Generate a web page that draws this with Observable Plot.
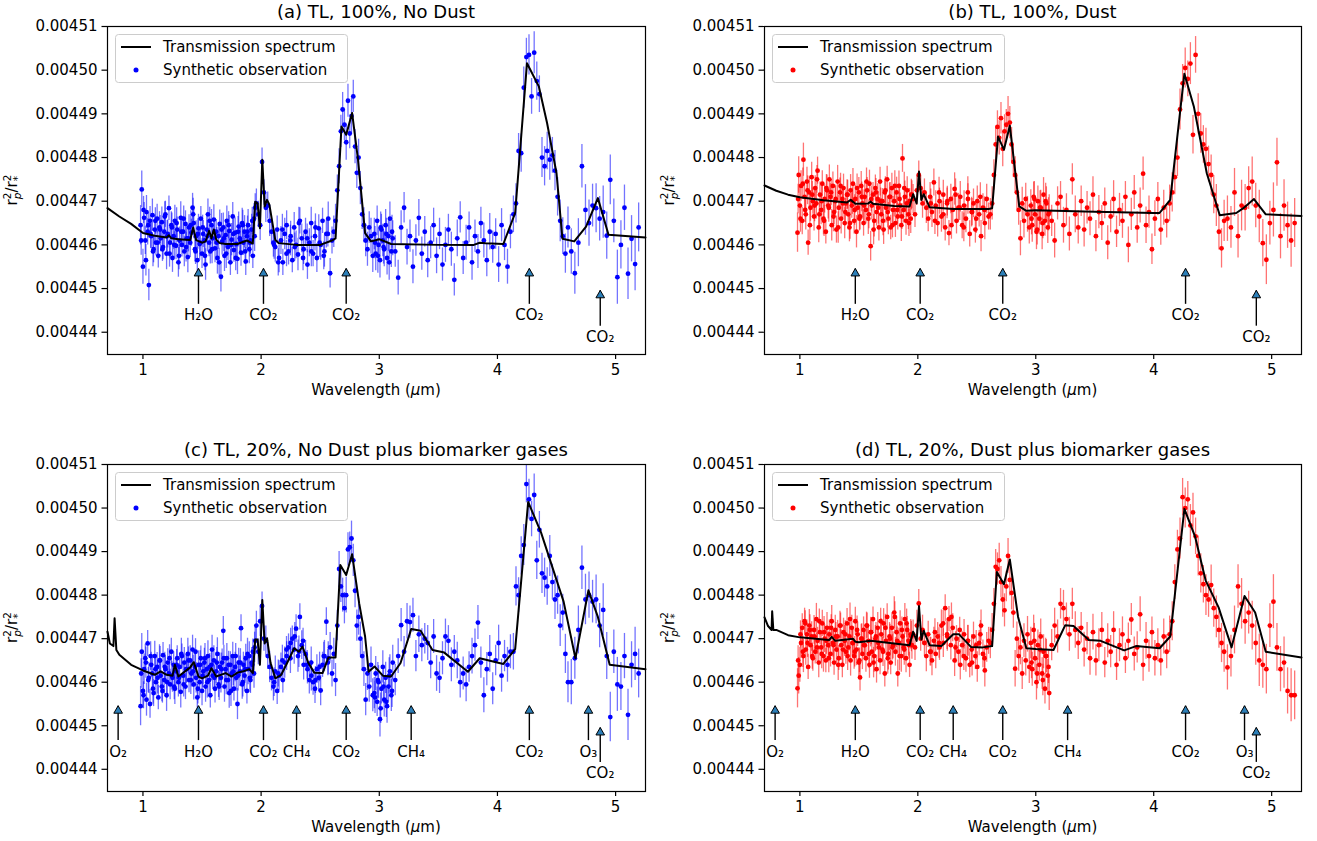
<!DOCTYPE html>
<html><head><meta charset="utf-8">
<script src="https://cdn.jsdelivr.net/npm/d3@7"></script>
<script src="https://cdn.jsdelivr.net/npm/@observablehq/plot@0.6"></script>
<style>
body{margin:0;background:#fff;font-family:"DejaVu Sans",sans-serif;}
#root{position:relative;width:1317px;height:841px;overflow:hidden;background:#fff}
.panel{position:absolute;width:660px;height:420px}
.title{position:absolute;font-size:18px;line-height:22px;text-align:center;white-space:nowrap;color:#000}
.legend{position:absolute}
</style></head>
<body><div id="root"></div>
<script>
// ---------- DATA (ratio values in units of 1e-5) ----------
const obsWave = [
0.98,0.99,1.00,1.01,1.02,1.03,1.04,1.05,1.06,1.07,1.08,1.09,1.10,1.11,
1.12,1.13,1.14,1.15,1.16,1.17,1.18,1.19,1.20,1.21,1.22,1.23,1.24,1.25,
1.26,1.27,1.28,1.29,1.30,1.31,1.32,1.33,1.34,1.35,1.36,1.37,1.38,1.39,
1.40,1.41,1.42,1.43,1.44,1.45,1.46,1.47,1.48,1.49,1.50,1.51,1.52,1.53,
1.54,1.55,1.56,1.57,1.58,1.59,1.60,1.61,1.62,1.63,1.64,1.65,1.66,1.67,
1.68,1.69,1.70,1.71,1.72,1.73,1.74,1.75,1.76,1.77,1.78,1.79,1.80,1.81,
1.82,1.83,1.84,1.85,1.86,1.87,1.88,1.89,1.90,1.91,1.92,1.93,1.94,1.95,
1.96,1.976,1.992,2.008,2.024,2.04,2.056,2.072,2.088,2.104,2.12,2.136,2.152,2.168,
2.184,2.2,2.216,2.232,2.248,2.264,2.28,2.296,2.312,2.328,2.344,2.36,2.376,2.392,
2.408,2.424,2.44,2.456,2.472,2.488,2.504,2.52,2.536,2.552,2.568,2.584,2.6,
2.615,2.63,2.645,2.66,2.675,2.69,2.705,2.72,2.735,2.75,2.765,2.78,
2.795,2.81,2.825,2.84,2.855,2.87,2.885,2.9,2.915,2.93,2.945,
2.958,2.97,2.982,2.994,3.006,3.018,3.03,3.042,3.054,3.066,3.078,3.09,3.102,3.114,
3.135,3.16,3.185,3.21,3.235,3.26,3.285,3.31,3.335,3.36,3.385,3.41,3.435,3.46,
3.485,3.51,3.535,3.56,3.585,3.61,3.635,3.66,3.685,3.71,3.735,3.76,3.785,3.81,
3.835,3.86,3.885,3.91,3.935,3.96,3.985,4.01,4.035,4.06,4.085,4.11,
4.135,4.157,4.179,4.201,4.223,4.245,4.267,4.289,4.311,4.333,4.355,4.377,
4.399,4.421,4.443,4.465,4.487,4.509,4.531,4.553,4.575,4.597,
4.625,4.655,4.685,4.715,4.745,4.775,4.805,4.835,4.865,4.895,
4.925,4.955,4.985,5.015,5.045,5.075,5.105,5.135,5.165,5.195,
// interleaved extra samples
0.985,1.005,1.025,1.045,1.065,1.085,1.105,1.125,1.145,1.165,1.185,1.205,1.225,1.245,
1.265,1.285,1.305,1.325,1.345,1.365,1.385,1.405,1.425,1.445,1.465,1.485,1.505,1.525,
1.545,1.565,1.585,1.605,1.625,1.645,1.665,1.685,1.705,1.725,1.745,1.765,1.785,1.805,
1.825,1.845,1.865,1.885,1.905,1.925,1.945,
2.11,2.145,2.18,2.215,2.25,2.285,2.32,2.355,2.39,2.425,2.46,2.495,2.53,2.565,
2.964,2.988,3.012,3.036,3.06,3.084,3.108];

const obsErr = [
.45,.42,.40,.35,.32,.38,.30,.36,.33,.29,.37,.31,.34,.30,
.33,.28,.36,.31,.35,.29,.34,.30,.37,.32,.28,.35,.31,.33,
.30,.36,.32,.29,.34,.31,.37,.28,.33,.35,.30,.32,.36,.29,
.34,.31,.33,.36,.29,.35,.30,.32,.37,.28,.34,.31,.33,.36,
.30,.35,.32,.29,.36,.31,.34,.33,.28,.37,.30,.32,.35,.31,
.33,.36,.29,.34,.31,.35,.30,.37,.32,.28,.34,.31,.36,.33,
.35,.31,.34,.29,.37,.32,.30,.36,.33,.31,.35,.29,.34,.32,
.33,.30,.35,.32,.29,.34,.31,.36,.30,.33,.35,.31,.34,.32,
.30,.36,.33,.31,.35,.29,.34,.32,.37,.30,.33,.35,.31,.34,
.32,.36,.30,.34,.33,.31,.35,.29,.36,.32,.38,.34,.31,
.36,.38,.35,.40,.37,.39,.36,.41,.38,.35,.40,.37,
.39,.36,.42,.38,.35,.40,.37,.39,.36,.41,.38,
.36,.39,.34,.38,.41,.35,.37,.40,.36,.39,.35,.38,.37,.40,
.36,.40,.38,.35,.41,.37,.39,.36,.42,.38,.35,.40,.37,.39,
.41,.36,.38,.40,.35,.39,.37,.42,.36,.38,.40,.35,.41,.37,
.39,.36,.40,.38,.42,.37,.35,.41,.38,.36,.40,.39,
.42,.45,.40,.44,.47,.43,.46,.41,.48,.44,.42,.46,
.45,.43,.47,.41,.46,.44,.48,.42,.45,.47,
.52,.48,.55,.50,.58,.53,.49,.56,.51,.60,
.54,.57,.50,.62,.55,.52,.59,.53,.61,.56,
.34,.31,.36,.29,.33,.35,.30,.37,.32,.28,.34,.36,.31,.33,
.30,.35,.32,.36,.29,.34,.31,.33,.37,.30,.35,.32,.28,.34,
.36,.31,.33,.29,.35,.32,.37,.30,.34,.31,.36,.33,.29,.35,
.32,.34,.30,.36,.33,.31,.35,
.33,.31,.35,.30,.34,.32,.36,.29,.33,.35,.31,.34,.32,.30,
.37,.40,.35,.39,.36,.41,.38];

const obsA = [
446.45,447.27,445.50,446.62,446.10,446.75,446.30,445.08,446.55,446.20,446.68,445.90,446.35,446.05,
446.60,445.75,446.40,446.15,446.52,445.95,446.30,446.70,445.80,446.25,446.84,446.05,446.45,445.70,
446.20,446.55,445.98,446.35,445.60,446.10,446.62,446.00,446.30,445.85,446.48,446.15,445.72,446.40,
446.05,446.28,446.85,446.50,445.90,446.20,445.65,446.38,446.02,446.60,445.80,446.25,446.10,445.55,
446.35,446.70,446.05,445.85,446.45,446.15,446.58,445.92,446.30,445.70,446.20,446.48,445.27,446.08,
446.40,445.75,446.22,446.55,445.95,446.32,445.60,446.12,446.65,445.88,446.28,446.02,445.68,446.42,
446.15,445.82,446.50,446.05,446.30,445.62,446.20,446.45,445.90,446.10,446.35,445.75,446.60,446.85,
446.95,446.70,446.45,447.90,447.20,446.85,446.90,446.55,446.30,446.05,445.95,446.35,445.70,446.10,
445.60,446.25,446.45,445.85,446.10,445.65,446.40,446.00,445.78,446.55,446.15,445.90,446.30,445.55,
446.05,446.50,445.80,446.20,445.70,446.38,446.00,446.55,445.85,446.25,446.60,445.35,446.10,
446.30,446.55,447.25,447.80,448.60,449.10,448.75,448.35,449.30,448.55,448.95,449.40,
448.25,447.65,448.00,447.30,446.70,446.45,446.10,445.90,446.40,446.20,445.75,
446.25,445.80,446.55,446.00,445.65,446.35,446.10,445.90,446.45,445.70,446.20,446.60,445.85,446.15,
445.85,445.25,446.40,446.85,445.95,446.20,445.50,446.10,446.62,445.80,446.30,445.65,446.05,446.45,
445.75,446.25,445.55,446.00,446.35,445.90,445.20,446.15,446.63,445.70,446.05,446.40,445.60,446.20,
445.85,446.50,446.10,445.65,446.30,445.95,446.25,445.55,446.45,446.00,445.50,446.30,
446.70,446.95,448.15,448.10,449.60,450.30,450.35,449.40,450.40,449.75,449.45,448.00,
447.80,448.15,447.95,448.05,447.70,447.10,446.55,446.20,445.80,446.40,
445.85,445.35,446.05,447.80,446.80,446.50,446.90,446.84,446.60,446.75,
446.21,447.49,446.55,445.26,446.00,446.85,445.34,446.14,445.56,446.40,
446.10,446.80,445.65,446.45,446.25,445.85,446.55,446.05,446.35,445.90,446.65,446.20,445.80,446.40,
446.00,446.50,445.75,446.30,446.60,445.95,446.15,446.45,446.70,445.85,446.25,446.05,446.40,445.75,
446.20,446.55,445.90,446.30,446.05,445.60,446.35,446.15,445.80,446.45,446.00,446.25,445.70,446.30,
446.10,446.45,445.85,446.30,446.05,446.55,446.20,
446.00,445.60,446.35,445.80,446.20,445.95,446.50,445.70,446.15,445.85,446.40,446.05,445.75,446.25,
446.05,445.75,446.40,445.95,446.25,445.60,446.30];

const obsB = [
446.28,447.60,446.90,447.35,446.55,447.95,447.10,446.70,447.45,446.05,447.20,446.85,447.55,447.00,
446.65,447.30,446.95,447.70,446.40,447.15,446.80,447.40,446.60,447.05,446.30,447.25,446.90,447.50,
447.10,446.45,447.35,446.75,447.00,446.35,447.45,446.85,447.20,446.60,447.05,447.30,446.50,446.95,
447.15,446.70,446.40,447.25,446.90,447.40,446.55,447.05,446.30,446.85,447.20,446.65,447.35,446.95,
446.50,447.10,446.80,447.25,446.60,447.40,445.97,446.90,447.15,446.55,447.30,446.75,447.05,446.40,
447.45,446.70,447.00,446.35,447.20,446.85,447.50,446.60,447.10,446.40,447.30,446.80,447.00,446.50,
447.20,446.65,447.35,446.90,446.45,447.98,446.80,447.10,446.55,447.25,446.70,447.00,446.60,447.15,
447.05,446.70,447.25,447.60,447.30,446.95,447.20,446.85,446.60,447.10,446.75,447.43,446.90,446.50,
447.00,446.65,447.15,446.40,446.95,446.27,447.05,446.80,447.28,446.55,446.85,447.10,446.45,446.90,
446.60,447.20,446.25,446.75,446.95,446.35,447.00,446.70,446.20,446.85,446.50,447.05,446.65,
446.70,446.95,447.60,448.30,448.70,448.45,448.90,448.20,448.60,448.75,449.00,448.80,
448.30,447.90,447.60,447.20,446.80,446.15,446.95,446.55,447.05,446.70,446.40,
446.90,446.45,447.10,446.70,446.30,447.00,446.60,446.85,446.25,447.15,446.55,446.95,446.40,446.75,
446.55,446.10,446.95,447.10,446.45,446.80,446.25,447.50,446.70,446.40,447.00,446.35,446.85,446.60,
447.15,446.20,446.75,446.50,446.95,446.05,446.65,447.05,446.30,446.80,446.55,447.10,446.00,446.70,
447.20,446.40,446.90,447.63,446.45,446.75,445.90,446.60,447.05,446.35,446.85,446.55,
446.95,447.20,447.55,448.00,449.10,449.70,450.05,449.80,450.15,448.52,450.35,449.00,
448.55,448.30,448.20,447.85,447.60,447.15,446.90,446.30,445.92,446.55,
446.60,446.40,447.20,446.20,446.90,446.85,447.30,447.45,446.90,446.65,
446.04,445.66,446.50,446.80,447.89,446.20,446.90,446.45,446.10,446.50,
447.05,446.60,447.40,446.80,447.25,446.45,447.15,446.90,447.50,446.70,447.00,446.55,447.30,446.85,
447.20,446.65,447.05,446.40,447.35,446.95,446.75,447.15,446.50,447.00,446.80,447.30,446.60,447.10,
446.90,447.45,446.70,447.05,446.35,447.20,446.85,447.00,446.55,447.25,446.75,447.10,446.45,447.35,
446.80,447.05,446.65,447.30,446.95,446.50,447.15,
446.95,446.55,447.20,446.70,447.00,446.45,447.15,446.85,446.40,447.05,446.75,446.60,447.10,446.80,
446.60,447.05,446.35,446.85,446.50,447.00,446.70];

const obsC = [
445.45,446.70,445.80,446.30,446.55,445.60,446.89,446.10,445.50,446.40,446.20,445.75,446.60,446.00,
446.35,445.65,446.50,446.15,445.90,446.62,446.05,446.30,445.70,446.45,446.20,445.95,446.70,446.10,
446.40,445.85,446.25,446.55,446.00,446.35,445.78,446.60,446.15,446.45,445.90,446.30,446.65,446.05,
446.50,446.20,446.75,445.95,446.35,446.10,445.65,446.40,446.00,446.55,445.80,446.25,446.45,445.90,
446.30,446.60,446.05,445.70,446.40,446.15,446.50,445.85,446.25,446.65,445.95,446.35,446.10,446.45,
447.18,445.90,446.30,446.55,446.05,445.75,446.40,446.20,446.60,445.85,446.35,446.10,445.50,446.45,
446.25,447.24,445.95,446.40,446.15,446.55,445.80,446.30,446.60,446.05,446.45,446.70,446.20,446.95,
447.30,446.70,447.40,447.75,447.00,446.95,446.60,446.35,446.10,445.90,446.25,445.80,446.15,446.35,
446.05,446.45,446.60,446.80,446.55,447.00,446.75,447.23,446.60,447.50,446.85,446.40,446.65,446.30,
446.05,446.45,446.00,445.85,446.30,446.10,445.81,446.40,446.60,447.39,446.55,446.80,446.20,
446.65,446.05,447.30,448.60,448.20,448.00,447.70,448.00,449.05,449.10,449.30,448.80,
448.10,447.30,447.50,447.00,446.60,446.30,445.60,446.20,445.90,446.40,445.70,
445.75,446.20,445.55,446.00,445.15,445.85,446.35,445.60,446.10,445.45,445.90,446.25,445.70,446.45,
446.05,446.60,447.31,446.70,447.40,447.38,447.54,446.60,447.10,446.85,447.00,446.90,446.45,447.05,
446.20,446.10,446.55,447.05,446.95,446.40,446.70,446.50,446.00,446.20,445.95,446.35,446.60,446.85,
447.37,446.45,445.70,446.30,446.65,445.85,446.50,446.90,446.15,446.60,446.40,446.70,
446.70,448.20,448.00,448.90,449.15,450.55,450.20,449.75,450.30,448.80,449.50,448.50,
448.40,448.20,448.90,448.30,447.90,448.00,447.30,447.60,446.65,446.00,
446.00,446.55,447.20,448.63,447.90,448.00,447.85,447.90,447.30,447.66,
446.60,445.20,446.70,445.95,445.90,446.60,445.25,446.40,446.65,446.20,
446.20,445.70,446.45,446.05,446.60,445.85,446.30,446.10,446.50,445.80,446.35,446.00,446.55,446.15,
445.90,446.40,446.10,446.65,445.95,446.30,446.50,446.05,446.25,446.70,445.85,446.40,446.15,446.55,
446.00,446.35,446.75,446.10,446.45,445.90,446.30,446.55,446.05,446.40,445.80,446.25,446.60,446.15,
446.45,446.00,446.30,446.65,446.10,446.40,446.80,
446.00,446.20,446.50,446.75,446.90,447.05,446.70,446.95,446.40,446.15,446.05,446.35,446.60,446.45,
445.65,446.05,445.40,445.90,445.55,446.15,445.80];

const obsD = [
445.86,446.15,446.40,446.90,447.25,446.60,447.40,446.75,447.10,446.35,447.30,446.85,447.05,446.55,
447.20,446.70,447.45,446.95,446.45,447.15,446.80,447.35,446.60,447.00,446.50,447.25,446.85,447.10,
446.65,447.40,446.90,446.45,447.20,446.75,447.05,446.55,447.30,446.85,446.40,447.15,446.95,446.70,
447.35,446.80,447.05,446.50,447.25,446.90,446.60,447.40,446.75,447.10,446.45,446.11,447.00,446.65,
447.20,446.85,446.55,447.30,446.95,446.40,447.15,446.70,447.45,446.60,447.00,446.30,447.25,446.80,
446.50,447.10,446.75,447.35,446.20,446.95,447.50,446.65,447.05,446.45,447.25,446.85,447.60,446.70,
447.15,446.20,446.90,447.35,446.60,447.05,446.80,447.45,446.55,447.20,446.95,446.40,447.10,446.85,
447.10,446.80,447.30,447.81,447.00,447.20,446.90,446.60,447.10,446.70,446.50,446.95,446.65,447.05,
446.80,447.30,446.90,447.70,447.10,447.45,446.85,447.25,446.50,447.00,446.70,446.40,446.85,447.10,
446.55,446.95,446.40,446.75,447.05,446.60,446.35,446.90,447.30,446.65,446.27,446.80,446.95,
446.90,447.20,447.80,448.65,448.60,448.80,448.30,447.90,447.65,448.20,448.90,448.35,
448.05,447.60,446.31,447.00,446.60,446.80,446.20,446.95,446.50,447.10,446.35,
446.90,446.30,447.20,446.55,446.00,446.85,446.40,447.05,446.20,446.70,445.85,446.60,446.15,445.75,
446.85,447.30,447.05,447.80,447.70,447.45,447.10,447.80,447.20,446.90,447.25,446.75,447.00,446.55,
447.15,446.50,446.85,447.20,446.45,446.95,446.70,447.20,446.40,446.85,447.10,446.55,446.95,447.44,
446.65,446.80,447.56,446.40,446.95,446.60,447.15,446.55,446.85,446.50,447.05,446.70,
447.10,447.40,448.30,449.05,449.30,450.25,450.00,450.20,449.60,449.90,449.35,448.90,
448.50,448.25,448.00,447.90,448.23,447.70,447.50,447.20,446.90,446.70,
446.34,446.60,447.20,448.20,447.80,447.40,447.60,447.30,446.90,446.50,
446.40,446.30,447.30,447.85,446.80,446.30,446.45,445.80,445.70,445.70,
446.50,447.10,446.70,447.35,446.90,447.20,446.60,447.05,446.80,447.40,446.65,447.15,446.95,446.55,
447.25,446.85,447.05,446.40,447.30,446.75,447.10,446.60,447.45,446.90,446.70,447.20,446.50,447.00,
446.85,447.30,446.65,447.15,446.45,447.05,446.90,447.40,446.70,447.25,446.55,447.00,446.80,447.50,
446.95,446.60,447.20,446.75,447.35,446.85,447.05,
446.70,447.15,446.90,447.35,447.05,447.50,446.80,447.20,446.60,446.95,446.45,446.85,447.10,446.55,
446.45,446.95,446.20,446.75,446.05,446.60,446.35];

// Transmission spectra (model lines)
const modelAx = [0.70,0.8,0.9,1.0,1.1,1.2,1.22,1.24,1.3,1.4,1.425,1.45,1.5,1.53,1.56,1.58,1.60,1.62,1.65,1.7,1.8,1.88,1.93,1.95,1.97,1.99,2.01,2.03,2.05,2.07,2.12,2.15,2.3,2.5,2.6,2.63,2.68,2.72,2.77,2.82,2.88,2.93,3.0,3.1,3.5,3.8,3.85,3.9,4.05,4.15,4.25,4.35,4.42,4.5,4.55,4.65,4.75,4.85,4.94,5.253];
const modelAy = [446.84,446.65,446.48,446.27,446.21,446.17,446.22,446.15,446.13,446.11,446.40,446.11,446.05,446.08,446.32,446.15,446.35,446.12,446.04,446.02,446.02,446.10,446.03,446.99,446.95,446.38,447.95,446.88,447.03,446.92,446.11,446.04,446.0,446.0,446.1,446.15,448.71,448.52,449.02,447.95,446.27,446.08,446.13,446.02,446.0,446.0,446.05,446.04,446.02,446.73,450.16,449.63,448.79,447.64,446.14,446.08,446.42,447.07,446.23,446.17];
const modelBx = [0.70,0.8,0.9,1.0,1.2,1.4,1.43,1.47,1.58,1.6,1.62,1.8,1.93,1.96,1.99,2.01,2.03,2.05,2.1,2.3,2.6,2.63,2.68,2.73,2.78,2.86,2.92,3.0,3.5,4.0,4.05,4.14,4.26,4.34,4.45,4.56,4.7,4.76,4.85,4.95,5.253];
const modelBy = [447.36,447.24,447.15,447.09,447.02,446.97,447.03,446.94,446.95,446.99,446.94,446.89,446.88,447.16,446.95,447.68,447.03,447.16,446.86,446.82,446.82,446.84,448.48,448.18,448.73,446.88,446.78,446.79,446.76,446.73,446.73,447.03,449.92,449.17,447.64,446.68,446.73,446.84,447.05,446.70,446.66];
const modelCx = [0.70,0.72,0.75,0.76,0.775,0.8,0.9,1.0,1.1,1.15,1.2,1.25,1.27,1.3,1.4,1.43,1.47,1.5,1.55,1.58,1.62,1.7,1.75,1.8,1.85,1.9,1.93,1.95,1.97,1.99,2.01,2.03,2.05,2.08,2.12,2.17,2.22,2.28,2.32,2.35,2.4,2.45,2.52,2.57,2.63,2.67,2.72,2.77,2.83,2.88,2.91,2.96,3.03,3.1,3.18,3.27,3.35,3.45,3.55,3.75,3.85,4.05,4.15,4.26,4.37,4.56,4.66,4.77,4.85,4.95,5.253];
const modelCy = [447.16,446.89,446.83,447.47,446.74,446.63,446.40,446.27,446.17,446.25,446.17,446.15,446.40,446.13,446.34,446.46,446.13,446.09,446.15,446.32,446.13,446.21,446.13,446.22,446.25,446.30,446.21,446.98,446.98,446.40,447.89,446.89,447.01,446.44,446.09,446.17,446.44,446.78,446.70,446.82,446.44,446.22,446.21,446.57,446.57,448.69,448.46,448.94,447.81,447.05,446.24,446.36,446.15,446.13,446.44,447.22,447.18,446.74,446.68,446.24,446.55,446.42,446.76,450.14,449.43,447.85,446.55,448.11,447.50,446.40,446.30];
const modelDx = [0.70,0.73,0.76,0.765,0.775,0.8,0.9,1.0,1.2,1.25,1.27,1.3,1.45,1.47,1.5,1.6,1.8,1.93,1.96,1.99,2.01,2.03,2.05,2.1,2.2,2.3,2.35,2.45,2.55,2.63,2.67,2.73,2.78,2.85,2.92,3.0,3.15,3.25,3.32,3.45,3.55,3.75,3.85,4.05,4.14,4.26,4.35,4.44,4.55,4.66,4.77,4.86,4.95,5.253];
const modelDy = [447.49,447.29,447.20,447.63,447.20,447.20,447.08,447.03,446.98,446.97,447.04,446.95,447.0,446.93,446.92,446.95,446.89,446.85,447.16,446.95,447.75,446.98,447.18,446.85,446.83,447.10,447.10,446.81,446.80,446.83,448.53,448.25,448.82,447.50,446.78,446.76,446.74,447.31,447.29,446.97,446.95,446.73,446.83,446.78,447.05,449.98,449.35,448.34,447.72,446.80,447.98,447.60,446.70,446.57];

// Annotations
const annTopLabels = ["H₂O","CO₂","CO₂","CO₂","CO₂"];
const annTopWave   = [1.47, 2.02, 2.72, 4.27, 4.87];
const annTopTip    = [445.46,445.46,445.46,445.46,444.96];
const annTopText   = [444.38,444.38,444.38,444.38,443.88];
const annBotLabels = ["O₂","H₂O","CO₂","CH₄","CO₂","CH₄","CO₂","O₃","CO₂"];
const annBotWave   = [0.79,1.47,2.02,2.30,2.72,3.27,4.27,4.77,4.87];
const annBotTip    = [445.46,445.46,445.46,445.46,445.46,445.46,445.46,445.46,444.96];
const annBotText   = [444.40,444.40,444.40,444.40,444.40,444.40,444.40,444.40,443.90];

const titles = ["(a) TL, 100%, No Dust","(b) TL, 100%, Dust","(c) TL, 20%, No Dust plus biomarker gases","(d) TL, 20%, Dust plus biomarker gases"];
const xTicks = [1,2,3,4,5];
const yTicks = [444,445,446,447,448,449,450,451];
const legendLabels = ["Transmission spectrum","Synthetic observation"];

// ---------- RENDER ----------
[obsA,obsB,obsC,obsD,obsErr].forEach((a,i)=>{ if(a.length!==obsWave.length) throw new Error("length mismatch "+i+": "+a.length+" vs "+obsWave.length); });
[[modelAx,modelAy],[modelBx,modelBy],[modelCx,modelCy],[modelDx,modelDy]].forEach(([a,b],i)=>{ if(a.length!==b.length) throw new Error("model mismatch "+i); });

const root = document.getElementById("root");
const BLUE="#0000ff", RED="#ff0000";

function panel(cfg){
  const obs = obsWave.map((w,i)=>({w, v: cfg.vals[i], e: obsErr[i]}));
  const model = cfg.mx.map((w,i)=>({w, v: cfg.my[i]}));
  const ann = cfg.annL.map((label,i)=>({label, w: cfg.annW[i], tip: cfg.annTip[i], txt: cfg.annTxt[i]}));
  const svg = Plot.plot({
    width: 660, height: 420,
    marginLeft: cfg.ml, marginRight: cfg.mr, marginTop: cfg.mt, marginBottom: cfg.mb,
    style: {fontSize: "15px", fontFamily: "DejaVu Sans, sans-serif", background: "transparent", overflow: "visible", color: "black"},
    x: {domain: [0.70, 5.253]},
    y: {domain: [443.49, 451.0]},
    marks: [
      Plot.ruleX(obs, {x: "w", y1: d => d.v - d.e, y2: d => d.v + d.e, stroke: cfg.color, strokeOpacity: 0.55, strokeWidth: 1.3}),
      Plot.dot(obs, {x: "w", y: "v", r: 2.4, fill: cfg.color, stroke: "none"}),
      Plot.line(model, {x: "w", y: "v", stroke: "black", strokeWidth: 2}),
      Plot.link(ann, {x1: "w", x2: "w", y1: d => d.txt + 0.27, y2: "tip", stroke: "black", strokeWidth: 1.4}),
      Plot.dot(ann, {x: "w", y: "tip", symbol: "triangle", r: 3.2, fill: "#2c7fb8", stroke: "black", strokeWidth: 1, dy: 5}),
      Plot.text(ann, {x: "w", y: "txt", text: "label", fontSize: 15, fill: "black"}),
      Plot.axisX({ticks: xTicks, tickSize: 5, tickPadding: 5, label: null, tickFormat: d => String(d), strokeWidth: 1.2}),
      Plot.axisY({ticks: yTicks, tickSize: 5.5, tickPadding: 4.5, label: null, tickFormat: d => (d / 1e5).toFixed(5), strokeWidth: 1.2}),
      Plot.frame({stroke: "black", strokeWidth: 1.2})
    ]
  });
  const s = d3.select(svg);
  const fl = cfg.ml, fr = 660 - cfg.mr, ft = cfg.mt, fb = 420 - cfg.mb;
  const xl = s.append("text").attr("x", (fl + fr) / 2).attr("y", fb + 41)
    .attr("text-anchor", "middle").attr("font-size", 15).attr("fill", "black");
  xl.append("tspan").text("Wavelength (");
  xl.append("tspan").attr("font-style", "italic").text("μ");
  xl.append("tspan").text("m)");
  const yl = s.append("text").attr("transform", `translate(${fl - 90},${(ft + fb) / 2}) rotate(-90)`)
    .attr("text-anchor", "middle").attr("font-size", 15).attr("fill", "black");
  yl.append("tspan").text("r");
  yl.append("tspan").attr("font-size", 10.5).attr("dy", -6).text("2");
  yl.append("tspan").attr("font-size", 10.5).attr("font-style", "italic").attr("dx", -6.7).attr("dy", 10).text("p");
  yl.append("tspan").attr("dy", -4).text("/r");
  yl.append("tspan").attr("font-size", 10.5).attr("dy", -6).text("2");
  yl.append("tspan").attr("font-size", 10.5).attr("dx", -6.7).attr("dy", 10).text("*");
  const wrap = document.createElement("div");
  wrap.className = "panel";
  wrap.style.left = cfg.left + "px"; wrap.style.top = cfg.top + "px";
  wrap.appendChild(svg);
  root.appendChild(wrap);
  const t = document.createElement("div");
  t.className = "title";
  t.style.left = (cfg.left + fl) + "px"; t.style.width = (fr - fl) + "px";
  t.style.top = (cfg.top + ft - 25) + "px";
  t.textContent = cfg.title;
  root.appendChild(t);
  const lg = d3.create("svg").attr("class", "legend").attr("width", 234).attr("height", 50)
    .style("left", (cfg.left + fl + 8) + "px").style("top", (cfg.top + ft + 8) + "px");
  lg.append("rect").attr("x", 0.5).attr("y", 0.5).attr("width", 232).attr("height", 48).attr("rx", 3)
    .attr("fill", "white").attr("fill-opacity", 0.8).attr("stroke", "#cccccc");
  lg.append("line").attr("x1", 6).attr("x2", 36).attr("y1", 13).attr("y2", 13).attr("stroke", "black").attr("stroke-width", 2);
  lg.append("circle").attr("cx", 21).attr("cy", 36).attr("r", 2.5).attr("fill", cfg.color);
  lg.append("text").attr("x", 48).attr("y", 13).attr("dy", "0.35em").attr("font-size", 15).attr("font-family", "DejaVu Sans, sans-serif").text(legendLabels[0]);
  lg.append("text").attr("x", 48).attr("y", 36).attr("dy", "0.35em").attr("font-size", 15).attr("font-family", "DejaVu Sans, sans-serif").text(legendLabels[1]);
  root.appendChild(lg.node());
}

panel({title: titles[0], vals: obsA, mx: modelAx, my: modelAy, color: BLUE, annL: annTopLabels, annW: annTopWave, annTip: annTopTip, annTxt: annTopText,
  left: 0, top: 0, ml: 107, mr: 15, mt: 26, mb: 66});
panel({title: titles[1], vals: obsB, mx: modelBx, my: modelBy, color: RED, annL: annTopLabels, annW: annTopWave, annTip: annTopTip, annTxt: annTopText,
  left: 657, top: 0, ml: 107, mr: 16, mt: 26, mb: 66});
panel({title: titles[2], vals: obsC, mx: modelCx, my: modelCy, color: BLUE, annL: annBotLabels, annW: annBotWave, annTip: annBotTip, annTxt: annBotText,
  left: 0, top: 421, ml: 107, mr: 15, mt: 43, mb: 50});
panel({title: titles[3], vals: obsD, mx: modelDx, my: modelDy, color: RED, annL: annBotLabels, annW: annBotWave, annTip: annBotTip, annTxt: annBotText,
  left: 657, top: 421, ml: 107, mr: 16, mt: 43, mb: 50});
</script></body></html>
